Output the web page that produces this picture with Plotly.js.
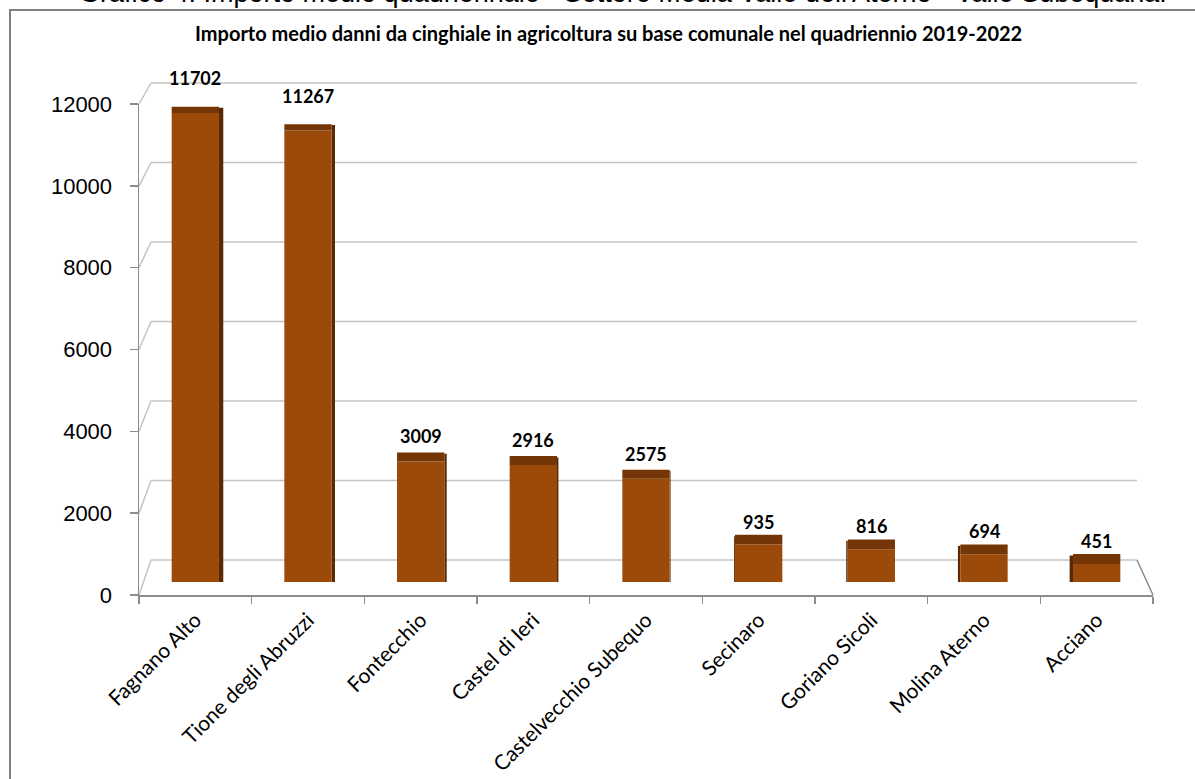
<!DOCTYPE html>
<html><head><meta charset="utf-8">
<script src="https://cdn.plot.ly/plotly-3.0.1.min.js"></script>
<style>html,body{margin:0;padding:0;background:#fff;overflow:hidden}</style>
</head><body><div id="chart" style="width:1195px;height:779px"></div>
<script>
// ---- data ----
const comuni = ['Fagnano Alto','Tione degli Abruzzi','Fontecchio','Castel di Ieri','Castelvecchio Subequo','Secinaro','Goriano Sicoli','Molina Aterno','Acciano'];
const importi = [11702,11267,3009,2916,2575,935,816,694,451];
const yTicks = [0,2000,4000,6000,8000,10000,12000];
const chartTitle = 'Importo medio danni da cinghiale in agricoltura su base comunale nel quadriennio 2019-2022';
const caption = "Grafico 4. Importo medio quadriennale - Settore Media Valle dell'Aterno - Valle Subequana.";

// ---- geometry (pixels) ----
const W=1195, H=779;
const px = x => x/W, py = y => 1 - y/H;
const FX0=139, FX1=1153, FY0=595, FY1=104;   // front axes
const BX0=151, BX1=1137, BY0=560, BY1=83;    // back wall
const BAR0=582, BARTOP=101;                  // bar plane (0 and 12000)
const yMax = 12000;
const barScale = (BAR0-BARTOP)/yMax;
const yLo = -(FY0-BAR0)/barScale, yHi = (BAR0-FY1)/barScale;
const backY = v => BY0 - v*(BY0-BY1)/yMax;
const frontY = v => FY0 - v*(FY0-FY1)/yMax;
const frontTickPos = yTicks.map(v => (BAR0 - frontY(v))/barScale);

const FRONT='#9b4a0a', TOP='#743606', SIDE='#5a2904';
const BW = 0.42;
const catW = (FX1-FX0)/comuni.length;
const centerCat = (700-FX0)/catW;

const thickU = importi.map(v => (10 - 4*v/yMax)/barScale);
const sideW = comuni.map((c,i) => Math.max(0.008, Math.abs(i+0.5-centerCat)*0.0085));
const sideOff = comuni.map((c,i) => (i+0.5-centerCat) < 0 ? BW/2 : -BW/2 - sideW[i]);

const traces = [
  {type:'bar', x:comuni, y:importi.map((v,i)=>v+thickU[i]*0.85),
   width:sideW, offset:sideOff, marker:{color:SIDE, line:{width:0}}, hoverinfo:'skip'},
  {type:'bar', x:comuni, y:importi, width:BW,
   marker:{color:FRONT, line:{width:0}}, hoverinfo:'skip'},
  {type:'bar', x:comuni, y:thickU, base:importi, width:BW,
   marker:{color:TOP, line:{width:0}}, hoverinfo:'skip'}
];

const gridC = '#c4c4c4', axC = '#8c8c8c';
const shapes = [];
yTicks.forEach(v => {
  shapes.push({type:'line', xref:'paper', yref:'paper', layer:'below',
    x0:px(BX0), x1:px(BX1), y0:py(backY(v)), y1:py(backY(v)), line:{color:gridC, width:1.5}});
  shapes.push({type:'line', xref:'paper', yref:'paper', layer:'below',
    x0:px(FX0), x1:px(BX0), y0:py(frontY(v)), y1:py(backY(v)), line:{color:gridC, width:1.5}});
});
shapes.push({type:'line', xref:'paper', yref:'paper', layer:'below',
  x0:px(BX1), x1:px(FX1), y0:py(BY0), y1:py(FY0), line:{color:axC, width:1.5}});
// outer frame
shapes.push({type:'rect', xref:'paper', yref:'paper', layer:'below',
  x0:px(10), x1:1.05, y0:-0.05, y1:py(10), line:{color:'#7f7f7f', width:2}, fillcolor:'rgba(0,0,0,0)'});

const annotations = importi.map((v,i) => ({
  x: comuni[i], y: v, xref:'x', yref:'y', text:'<b>'+v+'</b>', showarrow:false,
  yanchor:'bottom', yshift: 9 + 13*v/yMax,
  font:{family:'Lato, sans-serif', size:18, color:'#000'}
}));
annotations.push({x:px(608), y:py(33), xref:'paper', yref:'paper', text:'<b>'+chartTitle+'</b>',
  showarrow:false, xanchor:'center', yanchor:'middle', font:{family:'Lato, sans-serif', size:20, color:'#000'}});
annotations.push({x:px(623), y:py(10), xref:'paper', yref:'paper', text:caption,
  showarrow:false, xanchor:'center', yanchor:'bottom', font:{family:'Liberation Sans, Arial, sans-serif', size:27, color:'#000'}});

const layout = {
  width:W, height:H, margin:{l:0,r:0,t:0,b:0,autoexpand:false}, showlegend:false,
  paper_bgcolor:'#fff', plot_bgcolor:'rgba(0,0,0,0)', barmode:'overlay',
  xaxis:{type:'category', domain:[px(FX0), px(FX1)], range:[-0.5, comuni.length-0.5], anchor:'y',
    automargin:false, showline:true, linecolor:axC, linewidth:1.5, ticks:'outside', tickson:'boundaries', ticklen:7,
    tickcolor:axC, tickwidth:1.5, tickangle:-45, showgrid:false, zeroline:false, ticklabelstandoff:3,
    tickfont:{family:'Lato, sans-serif', size:21, color:'#000'}},
  yaxis:{domain:[py(FY0), py(FY1)], range:[yLo, yHi], tickmode:'array', tickvals:frontTickPos, ticktext:yTicks.map(String),
    anchor:'x', automargin:false, showline:true, linecolor:axC, linewidth:1.5, ticks:'outside', ticklen:8,
    tickcolor:axC, tickwidth:1.5, showgrid:false, zeroline:false, ticklabelstandoff:13,
    tickfont:{family:'Liberation Sans, Arial, sans-serif', size:22, color:'#000'}},
  shapes:shapes, annotations:annotations
};
Plotly.newPlot('chart', traces, layout, {staticPlot:true, displayModeBar:false});
</script></body></html>
